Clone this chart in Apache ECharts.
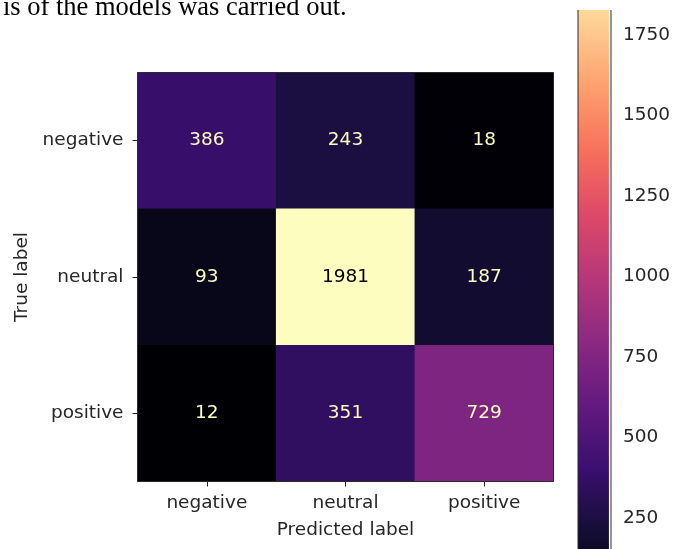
<!DOCTYPE html>
<html>
<head>
<meta charset="utf-8">
<script src="https://cdn.jsdelivr.net/npm/echarts@6/dist/echarts.min.js"></script>
<style>
html,body{margin:0;padding:0;background:#fff;}
#chart{width:673px;height:549px;}
</style>
</head>
<body>
<div id="chart"></div>
<script>
const predictedLabels = ['negative', 'neutral', 'positive'];
const trueLabels = ['negative', 'neutral', 'positive'];
const rowNegative = [386, 243, 18];
const rowNeutral = [93, 1981, 187];
const rowPositive = [12, 351, 729];
const colorbarTicks = [250, 500, 750, 1000, 1250, 1500, 1750];
const captionText = 'is of the models was carried out.';

const rows = [rowNegative, rowNeutral, rowPositive];
const allVals = rows.flat();
const vmin = Math.min(...allVals);
const vmax = Math.max(...allVals);
const thresh = (vmin + vmax) / 2;

const magma = ['#000004','#140e36','#3b0f70','#641a80','#8c2981','#b73779','#de4968','#f7705c','#fe9f6d','#fecf92','#fcfdbf'];

const data = [];
rows.forEach((row, yi) => {
  row.forEach((v, xi) => {
    data.push({
      value: [xi, yi, v],
      label: { color: v < thresh ? '#fcfdbf' : '#000004' }
    });
  });
});

const FONT = 'DejaVu Sans';
const FS = 18.5;
const TXT = '#262626';

const G0 = { left: 137.5, top: 72.5, width: 416, height: 409 };
// visible part of the (cropped) colorbar
const G1 = { left: 578, top: 10, width: 33, height: 539 };
const cbVisibleMin = 153.5;   // value at the bottom edge of the picture
const cbVisibleMax = 1827.8;  // value where the colorbar is cropped at the top

const chart = echarts.init(document.getElementById('chart'), null, { renderer: 'canvas' });
chart.setOption({
  animation: false,
  backgroundColor: '#ffffff',
  grid: [
    { left: G0.left, top: G0.top, width: G0.width, height: G0.height, containLabel: false },
    { left: G1.left, top: G1.top, width: G1.width, height: G1.height, containLabel: false }
  ],
  xAxis: [
    {
      gridIndex: 0, type: 'category', data: predictedLabels, position: 'bottom',
      name: 'Predicted label', nameLocation: 'middle', nameGap: 39,
      nameTextStyle: { fontFamily: FONT, fontSize: FS, color: TXT },
      axisLine: { show: false },
      axisTick: { show: true, alignWithLabel: true, length: 5, lineStyle: { color: '#222' } },
      axisLabel: { fontFamily: FONT, fontSize: FS, color: TXT, margin: 12 },
      splitLine: { show: false }
    },
    { gridIndex: 1, type: 'value', min: 0, max: 1, show: false }
  ],
  yAxis: [
    {
      gridIndex: 0, type: 'category', data: trueLabels, inverse: true,
      name: 'True label', nameLocation: 'middle', nameGap: 106,
      nameTextStyle: { fontFamily: FONT, fontSize: FS, color: TXT },
      axisLine: { show: false },
      axisTick: { show: true, alignWithLabel: true, length: 5, lineStyle: { color: '#222' } },
      axisLabel: { fontFamily: FONT, fontSize: FS, color: TXT, margin: 14 },
      splitLine: { show: false }
    },
    {
      gridIndex: 1, type: 'value', min: cbVisibleMin, max: cbVisibleMax, position: 'right',
      axisLine: { show: false },
      axisTick: { show: true, length: 5, customValues: colorbarTicks, lineStyle: { color: '#222' } },
      axisLabel: { fontFamily: FONT, fontSize: FS, color: TXT, margin: 14, customValues: colorbarTicks,
                   formatter: v => String(v) },
      splitLine: { show: false }
    }
  ],
  visualMap: {
    type: 'continuous', min: vmin, max: vmax, seriesIndex: 0, show: false,
    inRange: { color: magma }
  },
  series: [
    {
      type: 'heatmap', xAxisIndex: 0, yAxisIndex: 0,
      data: data,
      label: { show: true, fontFamily: FONT, fontSize: FS, formatter: p => String(p.value[2]) },
      emphasis: { disabled: true },
      itemStyle: { borderWidth: 0 }
    },
    {
      type: 'custom', xAxisIndex: 1, yAxisIndex: 1, silent: true,
      data: [[vmin, vmax]],
      renderItem: function (params, api) {
        const lo = api.coord([0, api.value(0)]);
        const hi = api.coord([1, api.value(1)]);
        const stops = magma.map((c, i) => ({ offset: i / (magma.length - 1), color: c }));
        return {
          type: 'rect',
          shape: { x: lo[0], y: hi[1], width: hi[0] - lo[0], height: lo[1] - hi[1] },
          style: { fill: new echarts.graphic.LinearGradient(0, 1, 0, 0, stops) }
        };
      }
    }
  ],
  graphic: [
    { type: 'rect', z: 100, silent: true,
      shape: { x: G0.left, y: G0.top, width: G0.width, height: G0.height },
      style: { fill: 'none', stroke: '#2a2a2a', lineWidth: 1 } },
    { type: 'rect', z: 100, silent: true,
      shape: { x: G1.left, y: -5, width: G1.width, height: 600 },
      style: { fill: 'none', stroke: '#2a2a2a', lineWidth: 1 } },
    { type: 'rect', z: 101, silent: true,
      shape: { x: 560, y: 0, width: 113, height: 10 },
      style: { fill: '#ffffff' } },
    { type: 'text', z: 102, silent: true, left: 3, top: -5,
      style: { text: captionText, fontFamily: 'Liberation Serif', fontSize: 26.5, fill: '#000' } }
  ]
});
</script>
</body>
</html>
